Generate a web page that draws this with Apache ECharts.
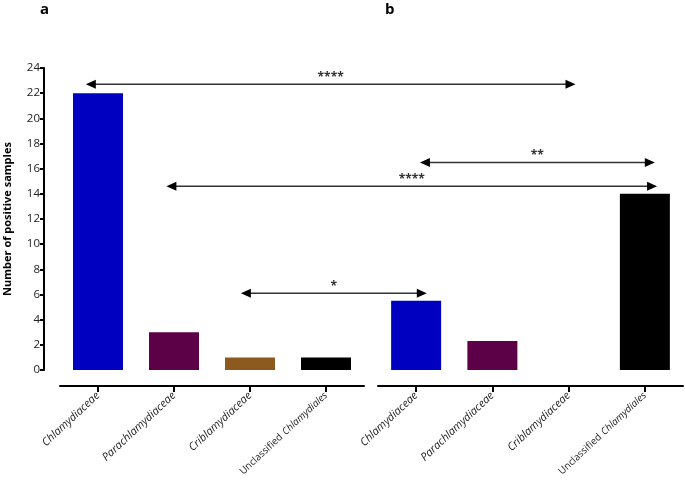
<!DOCTYPE html>
<html>
<head>
<meta charset="utf-8">
<script src="https://cdn.jsdelivr.net/npm/echarts@6/dist/echarts.min.js"></script>
<style>html,body{margin:0;padding:0;background:#fff}#c{width:685px;height:482px}</style>
</head>
<body>
<div id="c"></div>
<script>
const categories = ['Chlamydiaceae', 'Parachlamydiaceae', 'Criblamydiaceae', 'Unclassified Chlamydiales'];
const valuesA = [22, 3, 1, 1];
const valuesB = [5.5, 2.3, 0, 14];
const barColors = ['#0000c0', '#5c0048', '#8c5a1e', '#000000'];
const yMin = 0, yMax = 24, yInterval = 2;
const panelTitles = ['a', 'b'];
// comparisons: [panel, category index] -> [panel, category index], at y value
const compLabels = ['****', '**', '****', '*'];
const compFrom = [[0, 0], [1, 0], [0, 1], [0, 2]];
const compTo = [[1, 2], [1, 3], [1, 3], [1, 0]];
const compY = [22.7, 16.5, 14.6, 6.1];
// arrow-tip offsets in band fractions (style)
const compFromOff = [-0.16, 0.05, -0.1, -0.12];
const compToOff = [0.09, 0.13, 0.16, 0.14];

const FONT = '"Open Sans", "DejaVu Sans", sans-serif';
const chart = echarts.init(document.getElementById('c'), null, {renderer: 'canvas'});

function xLabelFmt(v) {
  if (v.indexOf('Unclassified') === 0) {
    return '{n|Unclassified} {ui|' + v.replace('Unclassified ', '') + '}';
  }
  return '{i|' + v + '}';
}
const xAxisCommon = {
  type: 'category',
  data: categories,
  offset: 16,
  axisLine: {onZero: false, lineStyle: {color: '#000', width: 2}},
  axisTick: {show: true, alignWithLabel: true, length: 6, lineStyle: {color: '#000', width: 2}},
  axisLabel: {
    rotate: 43, margin: 8, interval: 0, formatter: xLabelFmt, color: '#222',
    rich: {
      i: {fontStyle: 'italic', fontSize: 11, fontFamily: FONT, color: '#222'},
      ui: {fontStyle: 'italic', fontSize: 9.8, fontFamily: FONT, color: '#222'},
      n: {fontStyle: 'normal', fontSize: 9.8, fontFamily: FONT, color: '#222'}
    }
  }
};

chart.setOption({
  animation: false,
  grid: [
    {left: 60, top: 68, width: 304, height: 302, outerBoundsMode: 'none', containLabel: false},
    {left: 378, top: 68, width: 305, height: 302, outerBoundsMode: 'none', containLabel: false}
  ],
  title: [
    {text: panelTitles[0], left: 35, top: -3, textStyle: {fontSize: 15, fontWeight: 'bold', fontFamily: FONT, color: '#000'}},
    {text: panelTitles[1], left: 380, top: -3, textStyle: {fontSize: 15, fontWeight: 'bold', fontFamily: FONT, color: '#000'}}
  ],
  xAxis: [
    Object.assign({gridIndex: 0}, xAxisCommon),
    Object.assign({gridIndex: 1}, xAxisCommon)
  ],
  yAxis: [
    {
      gridIndex: 0, type: 'value', min: yMin, max: yMax, interval: yInterval, offset: 16,
      name: 'Number of positive samples', nameLocation: 'middle', nameGap: 31,
      nameTextStyle: {fontSize: 11, fontWeight: 'bold', fontFamily: FONT, color: '#000'},
      axisLine: {show: true, lineStyle: {color: '#000', width: 2}},
      axisTick: {show: true, length: 4, lineStyle: {color: '#000', width: 2}},
      axisLabel: {fontSize: 11.5, fontFamily: FONT, color: '#222', margin: 4},
      splitLine: {show: false}
    },
    {
      gridIndex: 1, type: 'value', min: yMin, max: yMax, interval: yInterval, show: false,
      splitLine: {show: false}
    }
  ],
  series: [
    {
      type: 'bar', xAxisIndex: 0, yAxisIndex: 0, barWidth: 50,
      data: valuesA.map((v, i) => ({value: v, itemStyle: {color: barColors[i]}}))
    },
    {
      type: 'bar', xAxisIndex: 1, yAxisIndex: 1, barWidth: 50,
      data: valuesB.map((v, i) => ({value: v, itemStyle: {color: barColors[i]}}))
    }
  ]
});

// arrows computed via axis scales
function xPix(panel, idx, off) {
  const c0 = chart.convertToPixel({xAxisIndex: panel}, categories[0]);
  const c1 = chart.convertToPixel({xAxisIndex: panel}, categories[1]);
  const c = chart.convertToPixel({xAxisIndex: panel}, categories[idx]);
  return c + off * (c1 - c0);
}
const graphics = [];
const AH = 10, AW = 4.5, COL = '#333';
compLabels.forEach((lab, k) => {
  const x1 = xPix(compFrom[k][0], compFrom[k][1], compFromOff[k]);
  const x2 = xPix(compTo[k][0], compTo[k][1], compToOff[k]);
  const y = chart.convertToPixel({yAxisIndex: 0}, compY[k]);
  graphics.push({type: 'line', shape: {x1: x1 + AH - 1, y1: y, x2: x2 - AH + 1, y2: y}, style: {stroke: COL, lineWidth: 1.5}, silent: true});
  graphics.push({type: 'polygon', shape: {points: [[x1, y], [x1 + AH, y - AW], [x1 + AH, y + AW]]}, style: {fill: '#000'}, silent: true});
  graphics.push({type: 'polygon', shape: {points: [[x2, y], [x2 - AH, y - AW], [x2 - AH, y + AW]]}, style: {fill: '#000'}, silent: true});
  graphics.push({type: 'text', x: (x1 + x2) / 2, y: y - 1, style: {text: lab, fontSize: 12, fontWeight: 'bold', fontFamily: FONT, fill: '#333', align: 'center', verticalAlign: 'bottom'}, silent: true});
});
chart.setOption({graphic: graphics});
</script>
</body>
</html>
